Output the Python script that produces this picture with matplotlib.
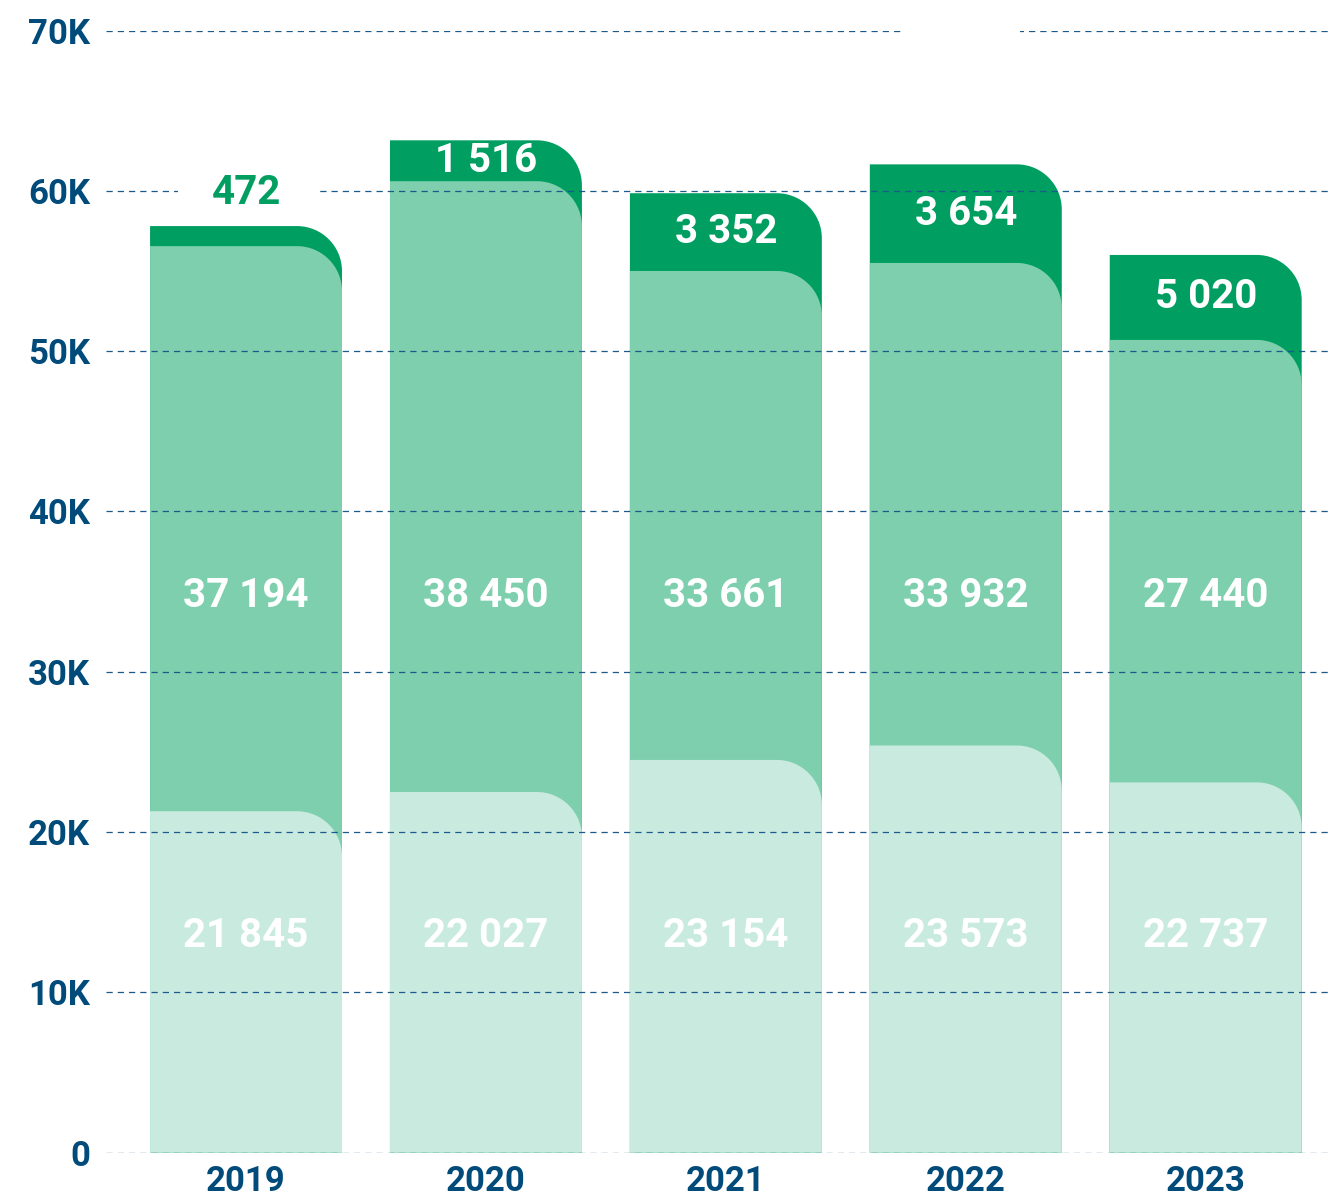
import matplotlib
matplotlib.use('Agg')
import matplotlib.pyplot as plt
from matplotlib.path import Path
from matplotlib.patches import PathPatch, Rectangle

plt.rcParams['font.family'] = ['Roboto', 'DejaVu Sans']

# ---------------- data ----------------
years = ['2019', '2020', '2021', '2022', '2023']
# printed values
base_values = [21845, 22027, 23154, 23573, 22737]
middle_values = [37194, 38450, 33661, 33932, 27440]
top_values = [472, 1516, 3352, 3654, 5020]
# drawn heights of each layer
light_tops = [21300, 22500, 24500, 25400, 23100]
middle_tops = [56550, 60600, 55000, 55500, 50700]
total_tops = [57800, 63150, 59850, 61650, 56000]
y_ticks = [0, 10000, 20000, 30000, 40000, 50000, 60000, 70000]
y_tick_labels = ['0', '10K', '20K', '30K', '40K', '50K', '60K', '70K']

# ---------------- style ----------------
DARK = '#009e60'
MID = '#7dcfae'
LIGHT = '#c8eadf'
NAVY = '#004b7a'
GRID = '#1b5a8a'

W, H = 1332, 1200
fig = plt.figure(figsize=(W / 100, H / 100), dpi=100)
ax_left, ax_right, ax_bottom, ax_top = 106, 1330, 1152.7, 30.5
ax = fig.add_axes([ax_left / W, (H - ax_bottom) / H,
                   (ax_right - ax_left) / W, (ax_bottom - ax_top) / H])
xlim = (-0.5836, 4.518)
ylim = (0, 70000)
ax.set_xlim(*xlim)
ax.set_ylim(*ylim)

px_per_x = (ax_right - ax_left) / (xlim[1] - xlim[0])
px_per_y = (ax_bottom - ax_top) / (ylim[1] - ylim[0])

bar_width = 0.80
radius_px = 45
rx = radius_px / px_per_x
ry = radius_px / px_per_y
k = 0.5523


def rounded_bar(x, top, color, z):
    x0, x1 = x - bar_width / 2, x + bar_width / 2
    verts = [(x0, 0), (x1, 0), (x1, top - ry),
             (x1, top - ry + k * ry), (x1 - rx + k * rx, top), (x1 - rx, top),
             (x0, top), (x0, 0)]
    codes = [Path.MOVETO, Path.LINETO, Path.LINETO,
             Path.CURVE4, Path.CURVE4, Path.CURVE4,
             Path.LINETO, Path.CLOSEPOLY]
    ax.add_patch(PathPatch(Path(verts, codes), facecolor=color,
                           edgecolor='none', zorder=z))


def fmt(v):
    return f"{v:,}".replace(',', ' ')


positions = list(range(len(years)))
for i, x in enumerate(positions):
    rounded_bar(x, total_tops[i], DARK, 1.0)
    rounded_bar(x, middle_tops[i], MID, 1.1)
    rounded_bar(x, light_tops[i], LIGHT, 1.2)

# grid on top of bars
ax.set_axisbelow(False)
ax.yaxis.grid(True, color=GRID, linewidth=0.9, linestyle=(0, (5.0, 4.0)), alpha=1.0)
ax.xaxis.grid(False)

label_font = dict(fontsize=29, fontweight='bold', ha='center', va='center', zorder=5)
for i, x in enumerate(positions):
    ax.text(x, 34700, fmt(middle_values[i]), color='white', **label_font)
    ax.text(x, 13500, fmt(base_values[i]), color='white', **label_font)
    seg = total_tops[i] - middle_tops[i]
    if seg < 2500:
        ax.text(x, total_tops[i] + 2050, fmt(top_values[i]), color=DARK, **label_font)
        # clear grid behind the outside label
        ax.add_patch(Rectangle((x - 0.283, 59000), 0.575, 2200, facecolor='white',
                               edgecolor='none', zorder=3))
    else:
        ax.text(x, (total_tops[i] + middle_tops[i]) / 2, fmt(top_values[i]),
                color='white', **label_font)

# gap in the top grid line
ax.add_patch(Rectangle((2.747, 69000), 0.479, 2000, facecolor='white',
                       edgecolor='none', zorder=3, clip_on=False))

ax.set_yticks(y_ticks)
ax.set_yticklabels(y_tick_labels, fontweight='bold')
ax.set_xticks(positions)
ax.set_xticklabels(years, fontweight='bold')
ax.tick_params(axis='y', length=0, pad=11.5, labelsize=25, labelcolor=NAVY)
ax.tick_params(axis='x', length=0, pad=9, labelsize=25, labelcolor=NAVY)
for s in ax.spines.values():
    s.set_visible(False)

fig.savefig('out.png', dpi=100, facecolor='white')
